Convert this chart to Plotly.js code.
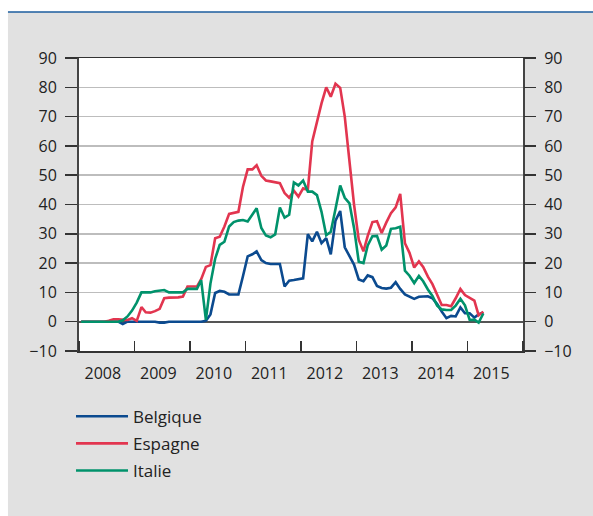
<!DOCTYPE html>
<html>
<head>
<meta charset="utf-8">
<script src="https://cdn.plot.ly/plotly-3.0.1.min.js"></script>
<style>html,body{margin:0;padding:0;background:#fff;}#chart{width:593px;height:516px;}</style>
</head>
<body>
<div id="chart"></div>
<script>
// Series start January 2008, monthly observations
const startYear = 2008;
const seriesNames = ["Belgique", "Espagne", "Italie"];
const belgique = [0,0,0,0,0,0,0,0,0,-0.8,0,0,0,0,0,0,0,-0.3,-0.3,0,0,0,0,0,0,0,0,
  0.3,2.5,9.8,10.5,10.2,9.3,9.3,9.3,15.5,22.3,
  23,24,21,20,19.7,19.7,19.7,12,14,14.2,
  14.6,14.8,29.9,27.4,30.7,26.8,28.5,23,34.5,37.8,
  25.4,22.5,19.5,14.4,13.8,15.8,15.2,12.2,11.5,11.3,
  11.6,13.5,11.2,9.3,8.6,7.8,8.5,8.7,8.7,8.0,
  6.0,3.5,1.2,2.0,1.8,4.9,2.9,2.9,1.4,2.5,
  3.2];
const espagne = [0,0,0,0,0,0,
  0.3,0.8,0.8,0.8,0.6,1.2,0.3,
  5,3.2,3.1,3.6,4.4,8,8.2,8.2,8.3,8.6,
  12,12,12,14.5,18.7,19.3,28.5,29,32.5,36.8,
  37.2,37.5,46,52,52,53.4,49.8,48.2,47.9,47.5,
  47.3,43.9,42.3,44.7,42.7,45.5,45,61.5,68.2,74.5,
  80,76.8,81.2,79.8,70,53.5,40,28,24,29.3,
  34,34.3,30.3,33.8,37,39,43.6,26.8,23.5,18.5,
  20.6,18.7,15.4,12.8,9,5.7,5.7,5.3,8,11.2,
  9.1,8,7.2,2.2,3.4];
const italie = [0,0,0,0,0,0,0,0,0,
  0.5,1.8,3.8,6.5,
  10,10,10,10.4,10.6,10.8,10,10,10,10,
  11.2,11.2,11.2,14.2,0.6,13,21.5,26.2,27.3,32.5,
  34,34.5,34.7,34.2,36.8,38.7,32,29.4,28.8,29.8,
  39,35.5,36.5,47.5,46.5,48.2,44.4,44.4,43.2,37.5,
  29.5,30.7,38.5,46.5,42.3,40.4,32,20.5,20,26,
  29.2,29.3,24.6,26,31.7,31.9,32.4,17.4,15.7,13.2,
  15.6,13.8,11,8.8,5.5,4.2,4,4,5.5,7.8,
  5.6,0.6,0.7,-0.3,2.8];
const yTicks = [-10,0,10,20,30,40,50,60,70,80,90];
const colors = ["#0b4a8f", "#e2354f", "#00926b"];

const dates = belgique.map((_, i) => {
  const y = startYear + Math.floor(i / 12);
  const m = (i % 12) + 1;
  return y + "-" + String(m).padStart(2, "0") + "-15";
});

const FONT = "'Open Sans', 'Noto Sans', sans-serif";
const series = [belgique, espagne, italie];
const traces = series.map((vals, k) => ({
  type: "scatter", mode: "lines", x: dates, y: vals,
  name: seriesNames[k], legendgroup: "g" + k,
  line: {color: colors[k], width: 2.6},
  hoverinfo: "skip"
}));
// mirror of the first series on the right axis (invisible) so the right scale is drawn
traces.push({type: "scatter", mode: "lines", x: dates, y: belgique, yaxis: "y2",
  showlegend: false, hoverinfo: "skip", line: {color: "rgba(0,0,0,0)", width: 0}});

const yCommon = {
  range: [-10, 90], tickvals: yTicks, ticks: "outside", ticklen: 12, tickwidth: 1.5,
  tickcolor: "#333", ticklabelstandoff: 5,
  tickfont: {family: FONT, size: 16, color: "#222"}
};

const layout = {
  width: 593, height: 516,
  margin: {l: 79, r: 70, t: 58, b: 165, pad: 0},
  paper_bgcolor: "#e1e1e1", plot_bgcolor: "#ffffff",
  font: {family: FONT, color: "#222"},
  showlegend: true,
  legend: {
    x: -0.018, y: -0.163, xanchor: "left", yanchor: "top",
    bgcolor: "rgba(0,0,0,0)", font: {family: FONT, size: 17, color: "#222"},
    traceorder: "grouped", tracegroupgap: 2, itemwidth: 52
  },
  xaxis: {
    type: "date", range: ["2008-01-01", "2016-01-01"],
    tick0: "2008-01-01", dtick: "M12", tickformat: "%Y", ticklabelmode: "period",
    ticks: "inside", ticklen: 10, tickwidth: 1.5, tickcolor: "#333",
    showgrid: false, zeroline: false, showline: true, mirror: true,
    linecolor: "#333", linewidth: 1.5, ticklabelshift: -4, ticklabelstandoff: 7,
    tickfont: {family: FONT, size: 16, color: "#222"}, fixedrange: true
  },
  yaxis: Object.assign({}, yCommon, {
    showgrid: true, gridcolor: "#bdbdbd", gridwidth: 1.5,
    zeroline: true, zerolinecolor: "#555", zerolinewidth: 2,
    showline: true, linecolor: "#444", linewidth: 2, mirror: true, fixedrange: true
  }),
  yaxis2: Object.assign({}, yCommon, {
    overlaying: "y", side: "right", showgrid: false, zeroline: false,
    showline: false, fixedrange: true
  }),
  shapes: [
    {type: "rect", xref: "paper", yref: "paper", x0: -0.3, x1: 1.3, y0: 1.157, y1: 1.3,
     fillcolor: "#ffffff", line: {width: 0}},
    {type: "rect", xref: "paper", yref: "paper", x0: -0.3, x1: -0.16, y0: -0.7, y1: 1.3,
     fillcolor: "#ffffff", line: {width: 0}},
    {type: "line", xref: "paper", yref: "paper", x0: -0.16, x1: 1.3, y0: 1.157, y1: 1.157,
     line: {color: "#1b5c9e", width: 1.5}}
  ]
};

Plotly.newPlot("chart", traces, layout, {displayModeBar: false, staticPlot: true});
</script>
</body>
</html>
